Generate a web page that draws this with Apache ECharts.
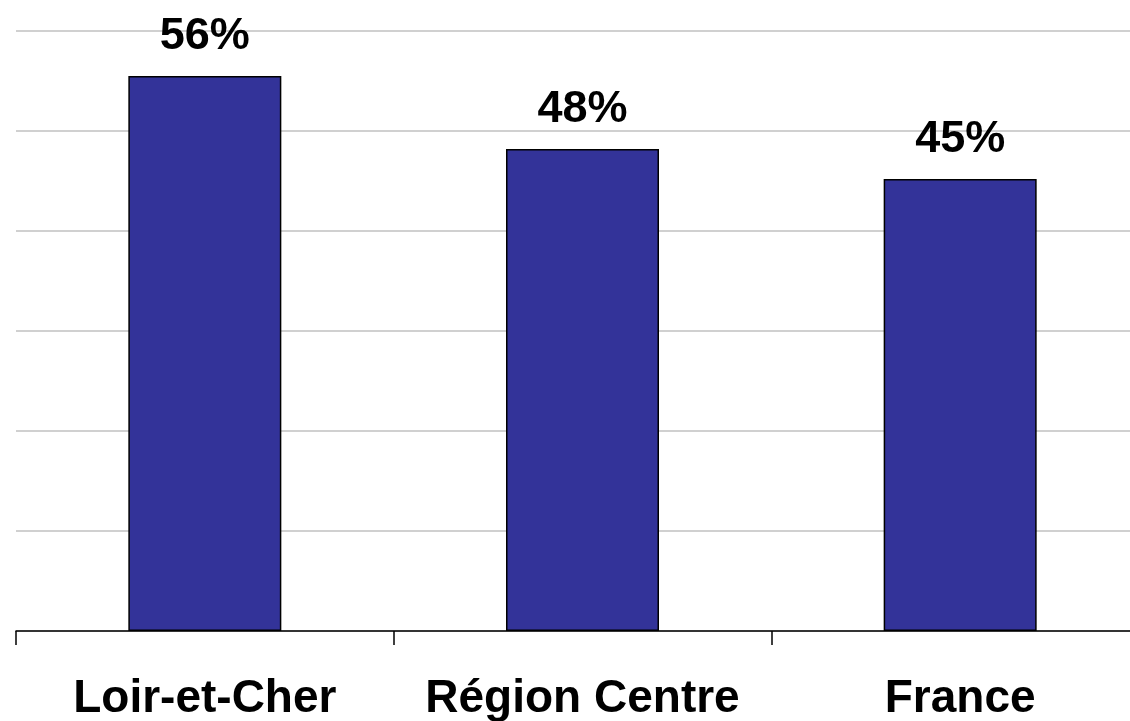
<!DOCTYPE html>
<html>
<head>
<meta charset="utf-8">
<script src="https://cdn.jsdelivr.net/npm/echarts@6/dist/echarts.min.js"></script>
<style>html,body{margin:0;padding:0;background:#fff}#c{width:1130px;height:721px}</style>
</head>
<body>
<div id="c"></div>
<script>
const categories = ['Loir-et-Cher', 'Région Centre', 'France'];
const values = [55.5, 48.2, 45.2];
const valueLabels = ['56%', '48%', '45%'];
const yTicks = [0, 10, 20, 30, 40, 50, 60];

const chart = echarts.init(document.getElementById('c'), null, {renderer: 'canvas'});
chart.setOption({
  animation: false,
  grid: {left: 16, top: 31, width: 1133, height: 600, outerBoundsMode: 'none', containLabel: false},
  xAxis: {
    type: 'category',
    data: categories,
    axisLine: {lineStyle: {color: '#000', width: 1.5}},
    axisTick: {show: true, interval: 0, length: 14, lineStyle: {color: '#000', width: 1.5}},
    axisLabel: {interval: 0, hideOverlap: false, margin: 45, fontFamily: 'Liberation Sans, Arial, sans-serif', fontWeight: 'bold', fontSize: 46, color: '#000'}
  },
  yAxis: {
    type: 'value',
    min: yTicks[0], max: yTicks[yTicks.length - 1], interval: 10,
    axisLabel: {show: false},
    axisLine: {show: false},
    axisTick: {show: false},
    splitLine: {lineStyle: {color: '#c0c0c0', width: 1.5}}
  },
  series: [{
    type: 'bar',
    data: values,
    barWidth: 153,
    itemStyle: {color: '#333399', borderColor: '#000', borderWidth: 1.5},
    label: {
      show: true, position: 'top', distance: 17,
      formatter: p => valueLabels[p.dataIndex],
      fontFamily: 'Liberation Sans, Arial, sans-serif', fontWeight: 'bold', fontSize: 45, color: '#000'
    }
  }]
});
</script>
</body>
</html>
